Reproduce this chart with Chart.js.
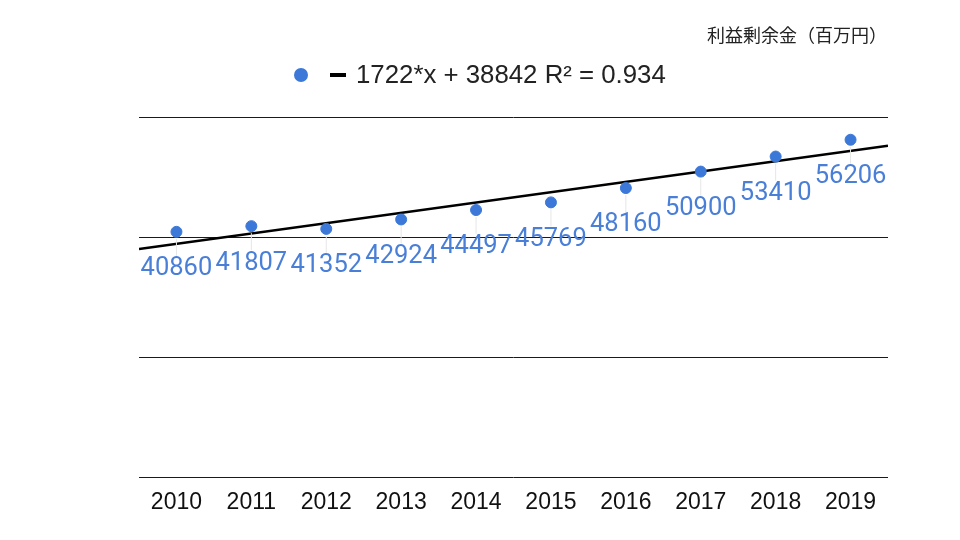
<!DOCTYPE html>
<html>
<head>
<meta charset="utf-8">
<script src="https://cdn.jsdelivr.net/npm/chart.js@4"></script>
<style>
  body { margin: 0; background: #fff; }
  #wrap { width: 960px; height: 540px; }
</style>
</head>
<body>
<div id="wrap"><canvas id="myChart"></canvas></div>
<script>
// datos
const anios = ["2010", "2011", "2012", "2013", "2014", "2015", "2016", "2017", "2018", "2019"];
const valores = [40860, 41807, 41352, 42924, 44497, 45769, 48160, 50900, 53410, 56206];
const pendiente = 1722;
const intercepto = 38842;
const r2 = 0.934;
const tituloTexto = "利益剰余金（百万円）";
const yTicks = [0, 20000, 40000, 60000];

const azul = "#3c78d8";

const puntos = valores.map((v, i) => ({ x: i, y: v }));
// linea de tendencia (x = 0 para 2010)
const xIni = -0.5;
const xFin = anios.length - 0.5;
const tendencia = [
  { x: xIni, y: intercepto + pendiente * xIni },
  { x: xFin, y: intercepto + pendiente * xFin },
];

// etiquetas de datos con linea guia
const etiquetas = {
  id: "etiquetas",
  afterDatasetsDraw(chart) {
    const c = chart.ctx;
    const meta = chart.getDatasetMeta(0);
    c.save();
    c.font = "25.5px Roboto";
    c.textAlign = "center";
    c.textBaseline = "middle";
    meta.data.forEach((p, i) => {
      c.strokeStyle = "#e6e6e6";
      c.lineWidth = 1;
      c.beginPath();
      c.moveTo(p.x, p.y + 7);
      c.lineTo(p.x, p.y + 24);
      c.stroke();
      c.fillStyle = "#4a7fd8";
      c.fillText(String(valores[i]), p.x, p.y + 37);
    });
    c.restore();
  },
  afterDraw(chart) {
    const c = chart.ctx;
    c.save();
    // titulo
    c.font = "18px 'Noto Sans CJK JP'";
    c.fillStyle = "#222";
    c.textAlign = "right";
    c.textBaseline = "middle";
    c.fillText(tituloTexto, 887, 35);
    // leyenda
    c.fillStyle = azul;
    c.beginPath();
    c.arc(301, 75, 7, 0, Math.PI * 2);
    c.fill();
    c.fillStyle = "#000";
    c.fillRect(330, 73, 16, 4);
    c.font = "25.8px 'Liberation Sans'";
    c.textAlign = "left";
    c.fillStyle = "#222";
    c.fillText(pendiente + "*x + " + intercepto + " R² = " + r2, 356, 76);
    c.restore();
  },
};

new Chart(document.getElementById("myChart"), {
  type: "scatter",
  data: {
    datasets: [
      {
        label: "valores",
        data: puntos,
        backgroundColor: azul,
        borderColor: azul,
        pointRadius: 5.5,
        pointHoverRadius: 5.5,
      },
      {
        type: "line",
        label: "tendencia",
        data: tendencia,
        borderColor: "#000",
        borderWidth: 2.5,
        pointRadius: 0,
        fill: false,
      },
    ],
  },
  options: {
    responsive: true,
    maintainAspectRatio: false,
    animation: false,
    layout: { padding: { left: 139, right: 72, top: 117, bottom: 0 } },
    plugins: {
      legend: { display: false },
      tooltip: { enabled: false },
    },
    scales: {
      x: {
        type: "linear",
        min: xIni,
        max: xFin,
        afterBuildTicks: (s) => { s.ticks = anios.map((a, i) => ({ value: i })); },
        afterFit: (s) => { s.height = 63; },
        grid: { display: false, drawTicks: false },
        border: { display: false },
        ticks: {
          padding: 12,
          color: "#111",
          font: { family: "'Liberation Sans'", size: 23 },
          callback: (v) => anios[v],
        },
      },
      y: {
        min: 0,
        max: 60000,
        afterBuildTicks: (s) => { s.ticks = yTicks.map((v) => ({ value: v })); },
        afterFit: (s) => { s.width = 0; },
        grid: { color: "#1a1a1a", lineWidth: 1, drawTicks: false },
        border: { display: false },
        ticks: { display: false },
      },
    },
  },
  plugins: [etiquetas],
});
</script>
</body>
</html>
